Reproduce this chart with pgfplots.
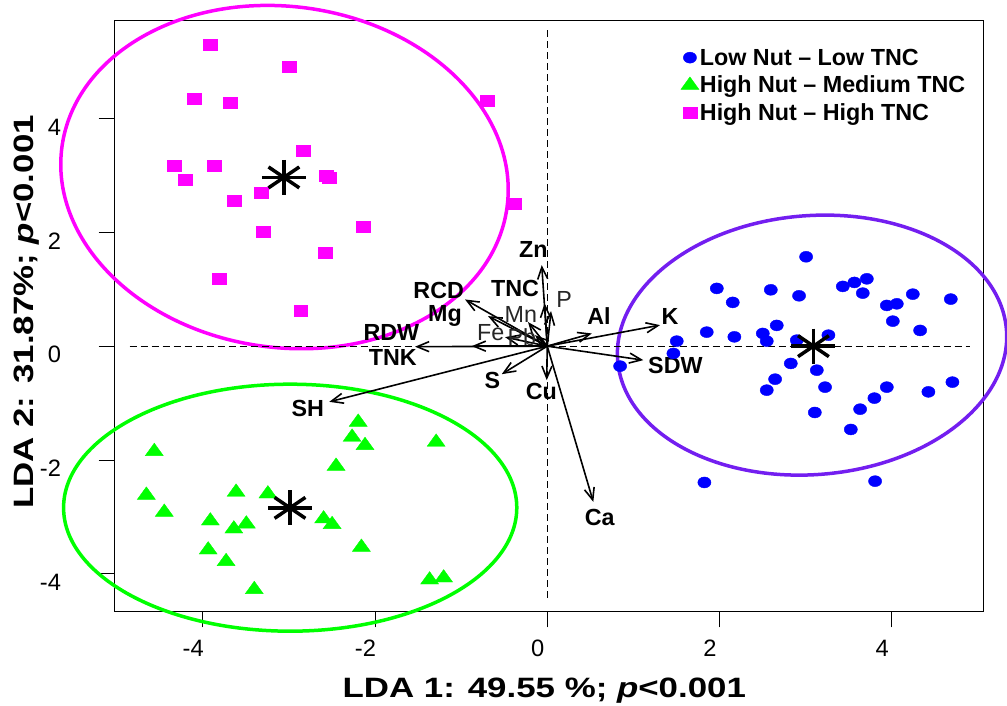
\documentclass[border=0pt]{standalone}
\usepackage{fontspec}
\setmainfont{Liberation Sans}
\newfontfamily\titlefont{Liberation Sans}[FakeStretch=1.245]
\usepackage{pgfplots}
\pgfplotsset{compat=1.18}
\usetikzlibrary{arrows.meta}
\definecolor{mag}{RGB}{255,0,255}
\definecolor{grn}{RGB}{0,255,0}
\definecolor{blu}{RGB}{0,0,255}
\definecolor{purp}{RGB}{115,30,240}

\pgfplotsset{myleg/.style={legend image code/.code={\draw[mark repeat=2,mark phase=2,##1] plot coordinates {(0pt,0pt) (7pt,0pt) (14pt,0pt)};}}}

\pgfplotstableread{
x y u v
0 0 -0.064 1.423
0 0 -0.030 0.750
0 0 0.044 0.615
0 0 -0.223 0.422
0 0 -0.142 0.193
0 0 -0.490 0.158
0 0 -0.955 0.820
0 0 -0.688 0.527
0 0 -0.877 0.000
0 0 -1.535 -0.010
0 0 -0.528 -0.492
0 0 -0.006 -0.597
0 0 -2.531 -0.978
0 0 0.535 -2.735
0 0 0.517 0.223
0 0 1.310 0.369
0 0 1.116 -0.246
}\loadings

\newcommand{\lb}{\bfseries\fontsize{23.3}{26}\selectfont}
\newcommand{\lr}{\fontsize{23.3}{26}\selectfont}

\begin{document}
\begin{tikzpicture}
\useasboundingbox (0,0) rectangle (1007pt,706pt);
\begin{axis}[
  at={(114.5pt,94.5pt)}, anchor=south west,
  scale only axis, width=868.5pt, height=590.5pt,
  xmin=-5.025, xmax=5.06, ymin=-4.66, ymax=5.71,
  clip=false,
  axis line style={line width=1pt, black},
  xtick={-4,-2,0,2,4}, ytick={-4,-2,0,2,4},
  tick pos=left, tick align=outside, major tick length=16pt,
  tick style={line width=1pt, black},
  /pgf/number format/assume math mode=true,
  tick label style={font=\fontsize{23.7}{26}\selectfont},
  xticklabel style={yshift=-9pt, xshift=-9.5pt},
  yticklabel style={xshift=-34pt, yshift=-8.5pt},
  legend style={draw=none, fill=none, at={(0.652,0.955)}, anchor=north west,
    font=\bfseries\fontsize{23.3}{28}\selectfont, inner sep=0pt, row sep=7.5pt,
    nodes={inner sep=1pt}},
  legend cell align=left,
]
% ellipses
\draw[mag, line width=3.5pt, rotate around={-7.8:(axis cs:-3.051,2.969)}] (axis cs:-3.051,2.969) ellipse [x radius=224.6pt, y radius=170.5pt];
\draw[grn, line width=3.5pt] (axis cs:-2.985,-2.837) ellipse [x radius=226.6pt, y radius=123.5pt];
\draw[purp, line width=3.5pt, rotate around={4.5:(axis cs:3.075,0.018)}] (axis cs:3.075,0.018) ellipse [x radius=195pt, y radius=129.5pt];
% reference lines
\draw[black, line width=0.8pt, dash pattern=on 7pt off 4pt] (axis cs:0,-4.42) -- (axis cs:0,5.58);
\draw[black, line width=0.8pt, dash pattern=on 7pt off 4pt] (axis cs:-4.85,0) -- (axis cs:4.91,0);

\addplot[only marks, mark=*, mark size=5.5pt, mark options={xscale=1.2, fill=blu, draw=blu}, myleg]
coordinates {(3.006,1.569)(1.969,1.014)(2.596,0.989)(3.432,1.049)(3.567,1.119)(3.711,1.182)(3.664,0.931)(2.154,0.768)(2.924,0.884)(4.245,0.913)(4.686,0.826)(3.943,0.715)(4.059,0.743)(2.665,0.364)(4.013,0.439)(1.852,0.246)(2.173,0.163)(2.503,0.223)(2.549,0.088)(1.504,0.088)(3.265,0.193)(2.898,0.105)(4.330,0.276)(1.465,-0.128)(0.846,-0.351)(2.828,-0.304)(3.130,-0.422)(2.646,-0.580)(2.549,-0.773)(3.226,-0.720)(3.943,-0.720)(3.799,-0.913)(4.426,-0.803)(4.705,-0.632)(3.633,-1.107)(3.107,-1.165)(3.525,-1.463)(1.825,-2.394)(3.807,-2.371)};
\addlegendentry{Low Nut – Low TNC}

\addplot[only marks, mark=triangle*, mark size=8.3pt, mark options={xscale=1.25, fill=grn, draw=grn}, myleg]
coordinates {(-2.195,-1.335)(-2.266,-1.598)(-2.116,-1.744)(-1.290,-1.686)(-4.563,-1.850)(-2.452,-2.108)(-4.655,-2.617)(-3.613,-2.564)(-3.244,-2.594)(-4.447,-2.916)(-3.912,-3.069)(-3.494,-3.122)(-3.639,-3.209)(-2.597,-3.033)(-2.498,-3.132)(-3.937,-3.578)(-2.158,-3.531)(-3.729,-3.782)(-1.366,-4.105)(-1.203,-4.070)(-3.402,-4.274)};
\addlegendentry{High Nut – Medium TNC}

\addplot[only marks, mark=square*, mark size=5.5pt, mark options={xscale=1.27, fill=mag, draw=mag}, myleg]
coordinates {(-3.916,5.30)(-2.995,4.913)(-4.103,4.351)(-3.676,4.281)(-0.701,4.304)(-2.837,3.425)(-4.331,3.167)(-3.866,3.174)(-4.199,2.916)(-2.564,2.998)(-2.534,2.951)(-3.327,2.700)(-3.631,2.559)(-0.379,2.494)(-3.302,2.002)(-2.141,2.090)(-2.581,1.646)(-3.808,1.189)(-2.863,0.615)};
\addlegendentry{High Nut – High TNC}

% loadings
\addplot[forget plot, no markers, black, line width=1.6pt,
  quiver={u=\thisrow{u}, v=\thisrow{v}}, -{Straight Barb[length=12pt,width=10pt]}]
  table[x=x, y=y] {\loadings};

% centroids
\addplot[forget plot, only marks, mark=+, mark size=20pt, line width=3.5pt, black, mark options={xscale=1.1, yscale=0.875}]
coordinates {(-3.058,2.963)(-2.987,-2.840)(3.091,0.0)};
\addplot[forget plot, only marks, mark=x, mark size=20pt, line width=3.5pt, black, mark options={xscale=1.09, yscale=0.74}]
coordinates {(-3.058,2.963)(-2.987,-2.840)(3.091,0.0)};

% loading labels
\node[font=\lb] at (axis cs:-0.161,1.704) {Zn};
\node[font=\lb] at (axis cs:-0.374,1.013) {TNC};
\node[font=\lr, text=black!85] at (axis cs:0.195,0.820) {P};
\node[font=\lb] at (axis cs:-1.260,0.984) {RCD};
\node[font=\lb] at (axis cs:-1.187,0.527) {Mg};
\node[font=\lr, text=black!85] at (axis cs:-0.307,0.550) {Mn};
\node[font=\lr, text=black!85] at (axis cs:-0.656,0.234) {Fe};
\node[font=\lr, text=black!85] at (axis cs:-0.296,0.153) {Pb};
\node[font=\lb] at (axis cs:-1.810,0.234) {RDW};
\node[font=\lb] at (axis cs:-1.794,-0.193) {TNK};
\node[font=\lb] at (axis cs:-0.637,-0.597) {S};
\node[font=\lb] at (axis cs:-0.069,-0.797) {Cu};
\node[font=\lb] at (axis cs:0.601,0.532) {Al};
\node[font=\lb] at (axis cs:1.426,0.515) {K};
\node[font=\lb] at (axis cs:1.488,-0.348) {SDW};
\node[font=\lb] at (axis cs:-2.780,-1.089) {SH};
\node[font=\lb] at (axis cs:0.610,-3.003) {Ca};
\end{axis}
\node[anchor=base, inner sep=0pt, font=\titlefont\bfseries\fontsize{28}{30}\selectfont] at (544.3pt,8pt) {LDA 1: 49.55 \%; \textit{p}<0.001};
\node[anchor=base, rotate=90, inner sep=0pt, font=\titlefont\bfseries\fontsize{28}{30}\selectfont] at (33.3pt,394pt) {LDA 2: 31.87\%; \textit{p}<0.001};
\end{tikzpicture}
\end{document}
